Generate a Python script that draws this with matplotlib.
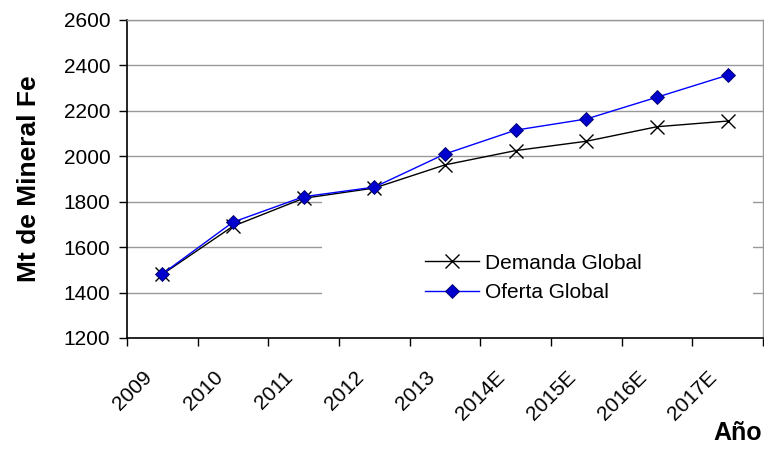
import matplotlib.pyplot as plt
import matplotlib.transforms as mtransforms
from matplotlib.patches import Rectangle
import numpy as np

plt.rcParams['font.family'] = ['Liberation Sans', 'DejaVu Sans']

years = ['2009', '2010', '2011', '2012', '2013', '2014E', '2015E', '2016E', '2017E']
demanda = [1480, 1692, 1815, 1860, 1962, 2025, 2066, 2130, 2155]
oferta = [1482, 1710, 1822, 1864, 2010, 2115, 2164, 2260, 2357]
y_ticks = [1200, 1400, 1600, 1800, 2000, 2200, 2400, 2600]

fig = plt.figure(figsize=(7.64, 4.5), dpi=100)
ax = fig.add_axes([0.1662, 0.249, 0.8325, 0.7066])

x = np.arange(len(years))

# horizontal grid
for yv in y_ticks[1:]:
    ax.axhline(yv, color='#999999', lw=1, zorder=1)

# white legend box hides part of the grid (Excel style)
ax.add_patch(Rectangle((0.307, 0.003), 0.677, 0.5, transform=ax.transAxes,
                       facecolor='white', edgecolor='none', zorder=2))

ax.plot(x, demanda, color='black', lw=1, marker='x', markersize=10,
        markeredgewidth=1, label='Demanda Global', zorder=3)
ax.plot(x, oferta, color='#0000ff', lw=1, marker='D', markersize=7,
        markerfacecolor='#0000cc', markeredgecolor='#000066', markeredgewidth=0.6,
        label='Oferta Global', zorder=4)

ax.set_xlim(-0.5, len(years) - 0.5)
ax.set_ylim(1200, 2600)

ax.set_yticks(y_ticks)
ax.tick_params(axis='y', labelsize=15, length=6, width=1, direction='out', pad=6)

# tick marks at category boundaries, labels at centres
ax.set_xticks(np.arange(-0.5, len(years)), minor=True)
ax.set_xticks(x)
ax.set_xticklabels(years, rotation=45, ha='right', rotation_mode='anchor', fontsize=15)
ax.tick_params(axis='x', which='major', length=0, pad=21)
ax.tick_params(axis='x', which='minor', length=6, width=1, direction='out')
offset = mtransforms.ScaledTranslation(-20 / 100, 0, fig.dpi_scale_trans)
for lbl in ax.get_xticklabels():
    lbl.set_transform(lbl.get_transform() + offset)

for s in ['left', 'bottom']:
    ax.spines[s].set_color('black')
    ax.spines[s].set_linewidth(1.2)
ax.spines['top'].set_color('#999999')
ax.spines['right'].set_color('#999999')
ax.spines['top'].set_linewidth(1)
ax.spines['right'].set_linewidth(1)

ax.set_ylabel('Mt de Mineral Fe', fontsize=19, fontweight='bold', labelpad=16)
fig.text(0.998, 0.012, 'Año', fontsize=18, fontweight='bold', ha='right', va='bottom')

leg = ax.legend(loc='upper left', bbox_to_anchor=(0.4686, 0.265), frameon=False,
                fontsize=15, handlelength=2.6, handletextpad=0.3, labelspacing=0.5,
                borderpad=0, borderaxespad=0)

fig.savefig('out.png', dpi=100)
